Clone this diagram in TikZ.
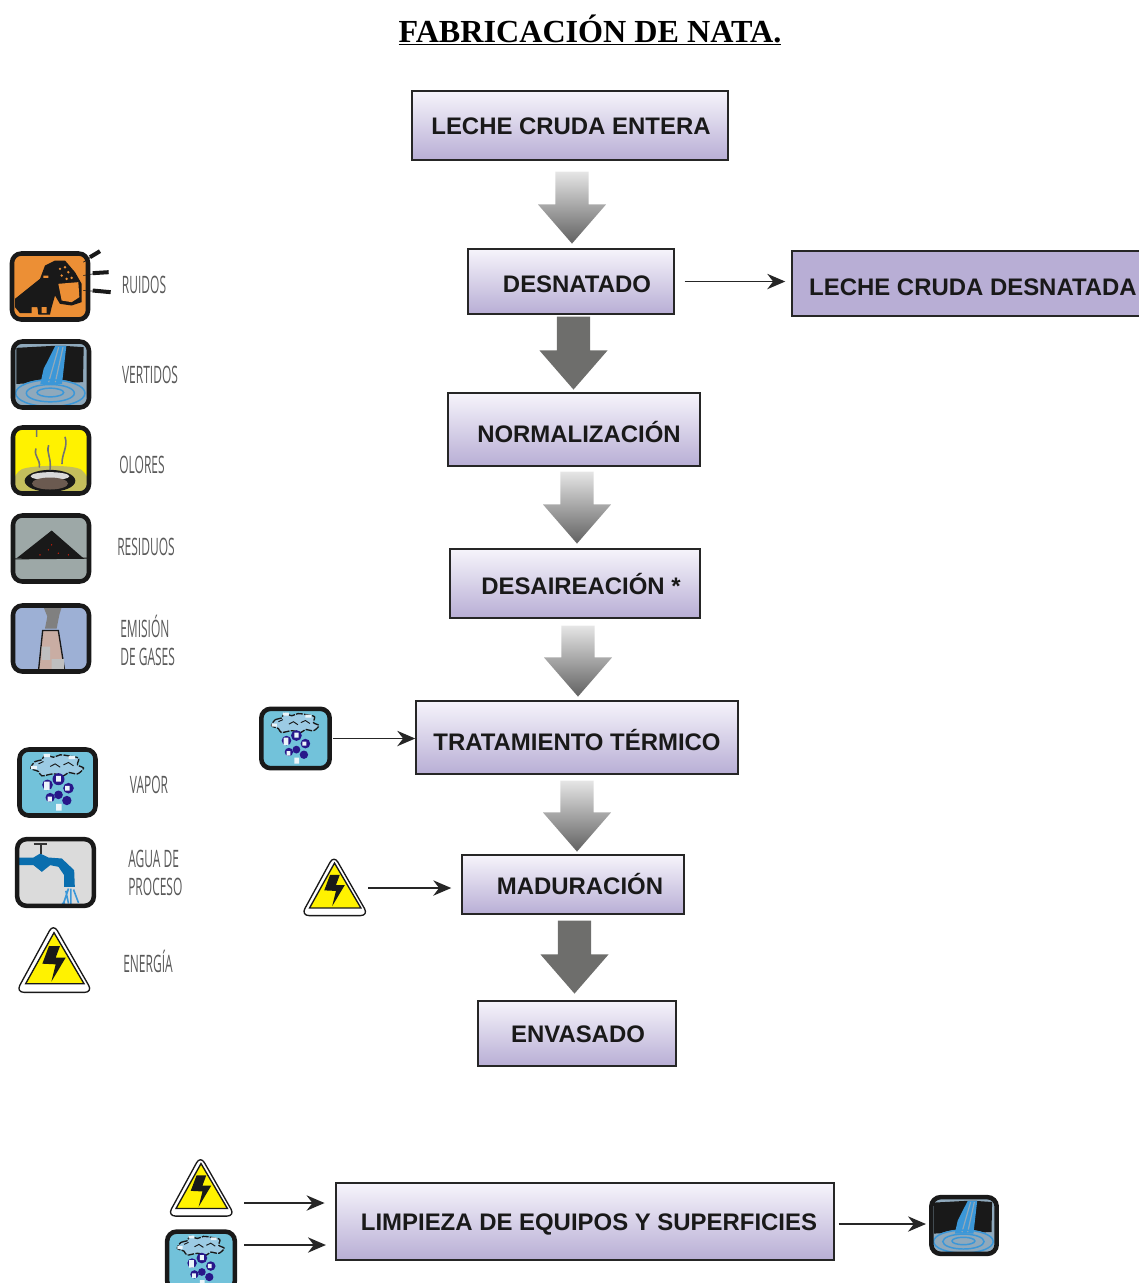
\documentclass[tikz,border=0pt]{standalone}
\usepackage{fontspec}
\setmainfont{Liberation Sans}
\newfontfamily\titlefont{Liberation Serif}
\newfontfamily\labelfont[FakeStretch=0.5]{Open Sans}
\usetikzlibrary{arrows.meta,shapes.arrows}
\definecolor{malva}{HTML}{B8AED5}
\definecolor{malvaclara}{HTML}{F6F4FB}
\definecolor{flechagris}{HTML}{6E6E6C}
\definecolor{naranja}{HTML}{EC8F35}
\definecolor{grisazul}{HTML}{8FA9BC}
\definecolor{azulagua}{HTML}{3B97D8}
\definecolor{oliva}{HTML}{C4BE5C}
\definecolor{cielo}{HTML}{9DB0D5}
\definecolor{turquesa}{HTML}{72C2DA}
\definecolor{nube}{HTML}{9CCBE4}
\definecolor{gota}{HTML}{28178A}
\definecolor{grifo}{HTML}{0A6EAE}
\definecolor{ceniza}{HTML}{9DA8A7}
\definecolor{ladrillo}{HTML}{C9ADA3}
\definecolor{lodo}{HTML}{6B5A50}
\tikzset{
	boxsize/.style 2 args={minimum width=#1*0.75pt,minimum height=#2*0.75pt},
	flowbox/.style={draw=black!85,line width=1.1pt,top color=malvaclara,bottom color=malva,inner sep=0pt,
		font=\bfseries\fontsize{17.95}{20}\selectfont,text=black!90,text height=12.9pt,text depth=0pt},
	fatarrow/.style={single arrow,shape border rotate=270,inner sep=12.2pt,minimum width=51pt,anchor=tip,
		single arrow head extend=13pt,single arrow tip angle=82,minimum height=#1*0.75pt},
	gradarrow/.style={fatarrow=#1,top color=black!10,bottom color=black!62},
	solidarrow/.style={fatarrow=#1,fill=flechagris},
	flecha/.style={->,line width=1.2pt,draw=black!85},
	sidelabel/.style={font=\labelfont\fontsize{18}{21}\selectfont,text=black!65,inner sep=0pt,align=left},
	iconframe/.style={draw=black!90,line width=3.4pt,rounded corners=7pt},
	ruidosicon/.pic={
		\begin{scope}[scale=1/3,shift={(-150,-138)}]
		\fill[naranja,rounded corners=7pt] (36,39) rectangle (264,237);
		\fill[black!90] (45,175)--(95,135)--(120,115)--(135,75)--(165,60)--(195,60)--(225,95)--(245,130)--(245,185)--(215,195)--(180,190)--(165,165)--(155,200)--(150,222)--(115,222)--(112,200)--(95,200)--(95,218)--(60,218)--(45,200)--cycle;
		\fill[naranja] (175,130)--(235,125)--(238,170)--(215,185)--(185,180)--cycle;
		\fill[naranja] (100,205) rectangle (112,222) (125,200) rectangle (140,218) (130,105) rectangle (145,112);
		\foreach \a/\b in {180/85,195/80,205/95,185/105,215/112,200/115}\fill[naranja] (\a,\b) circle (4);
		\draw[iconframe] (36,39) rectangle (264,237);
		\draw[black!90,line width=0.5pt] (250,65)--(275,48) (250,105)--(280,100) (250,150)--(280,152);
		\draw[black!90,line width=3pt] (270,50)--(300,32) (278,98)--(326,95) (278,150)--(332,155);
		\end{scope}
	},
	vertidosicon/.pic={
		\begin{scope}[scale=1/3,shift={(-152,-402)}]
		\fill[grisazul,rounded corners=7pt] (38,303) rectangle (266,501);
		\fill[black!90] (48,322)--(160,316)--(190,316)--(250,320)--(248,425)--(48,430)--cycle;
		\fill[grisazul] (150,458) ellipse [x radius=106,y radius=42];
		\fill[azulagua] (165,316)--(198,316)--(185,430)--(120,430)--(130,385)--cycle;
		\draw[grisazul,line width=0.9pt] (175,320)--(145,425) (188,320)--(165,425);
		\draw[azulagua,line width=1.1pt] (150,458) ellipse [x radius=104,y radius=40] (150,458) ellipse [x radius=72,y radius=26] (150,456) ellipse [x radius=40,y radius=13];
		\draw[iconframe] (38,303) rectangle (266,501);
		\end{scope}
	},
	oloresicon/.pic={
		\begin{scope}[scale=1/3,shift={(-153,-661)}]
		\fill[yellow,rounded corners=7pt] (39,562) rectangle (267,760);
		\fill[oliva,rounded corners=7pt] (40,700)..controls (90,675) and (220,672)..(267,705)--(267,760)--(39,760)--cycle;
		\fill[black!90] (150,722) ellipse [x radius=76,y radius=33];
		\fill[white!85!black] (150,708) ellipse [x radius=58,y radius=12];
		\fill[lodo] (150,730) ellipse [x radius=54,y radius=18];
		\draw[black!55,line width=1.2pt] (110,555)--(110,590) (108,625)..controls (100,650) and (122,655)..(118,682) (146,615)..controls (138,640) and (155,650)..(150,690) (195,590)..controls (205,620) and (185,640)..(186,672);
		\draw[iconframe] (39,562) rectangle (267,760);
		\end{scope}
	},
	residuosicon/.pic={
		\begin{scope}[scale=1/3,shift={(-153,-146)}]
		\fill[ceniza,rounded corners=7pt] (39,47) rectangle (267,245);
		\fill[black!90] (50,175)--(155,92)--(250,175)--cycle;
		\draw[black!90,line width=0.8pt] (45,177)--(265,175);
		\foreach \a/\b in {145/150,155/135,175/160,120/165,205/165}\fill[red!80!orange] (\a,\b) circle (2);
		\draw[iconframe] (39,47) rectangle (267,245);
		\end{scope}
	},
	emisionicon/.pic={
		\begin{scope}[scale=1/3,shift={(-153,-416)}]
		\fill[cielo,rounded corners=7pt] (39,317) rectangle (267,515);
		\fill[black!50] (130,320)--(185,322)--(178,345)--(170,386)--(135,386)--(142,350)--cycle;
		\draw[black!90,line width=1pt,fill=ladrillo] (128,392)--(175,392)--(195,518)--(115,518)--cycle;
		\fill[black!25] (125,440) rectangle (150,480) (155,478) rectangle (192,510);
		\draw[iconframe] (39,317) rectangle (267,515);
		\end{scope}
	},
	vaporicon/.pic={
		\begin{scope}[scale=1/3,shift={(-172,-848)}]
		\fill[turquesa,rounded corners=7pt] (58,749) rectangle (286,947);
		\draw[black!90,line width=1pt,dash pattern=on 5pt off 1pt,fill=nube] plot[smooth cycle] coordinates {(92,805) (105,785) (125,780) (135,765) (160,772) (180,765) (205,768) (235,775) (232,795) (250,805) (232,822) (205,818) (190,828) (160,822) (125,828) (115,815)};
		\fill[white!80!nube] (130,762) rectangle (150,772) (92,798) rectangle (110,808) (205,768) rectangle (225,778);
		\draw[black!90,line width=0.7pt] (150,800)--(165,792)--(180,802) (190,795)--(205,788)--(220,798) (115,792)--(130,785);
		\foreach \a/\b/\r in {175/838/18,205/865/16,150/893/14,175/885/13,200/902/14,142/855/16}\fill[gota] (\a,\b) circle (\r);
		\fill[white!80!nube] (168,828) rectangle (182,845) (132,845) rectangle (148,870) (195,858) rectangle (208,872) (142,890) rectangle (155,905) (168,912) rectangle (184,932);
		\draw[iconframe] (58,749) rectangle (286,947);
		\end{scope}
	},
	aguaicon/.pic={
		\begin{scope}[scale=1/3,shift={(-166,-157)}]
		\fill[black!14,rounded corners=7pt] (51,57) rectangle (281,257);
		\fill[grifo] (52,112)--(100,112)--(120,100)--(145,112)--(185,115)--(222,150)--(224,200)--(192,200)--(192,165)--(175,140)--(150,135)--(125,155)--(100,135)--(52,135)--cycle;
		\draw[black!80,line width=1.2pt] (100,72)--(140,72) (122,72)--(122,100);
		\draw[azulagua,line width=1.2pt] (205,205)--(190,250) (212,205)--(212,255) (220,208)--(235,248) (197,212)--(205,250) (185,250)--(195,250);
		\draw[iconframe] (51,57) rectangle (281,257);
		\end{scope}
	},
	energiaicon/.pic={
		\begin{scope}[scale=1/3,shift={(-160,-430)}]
		\draw[black!90,line width=1pt,fill=white,rounded corners=6pt] (158,318)--(276,524)--(46,524)--cycle;
		\draw[black!90,line width=1pt,fill=yellow] (160,345)--(250,498)--(75,498)--cycle;
		\fill[black!90] (145,385)--(178,385)--(165,420)--(195,420)--(152,492)--(165,440)--(125,438)--cycle;
		\end{scope}
	}
}
\begin{document}
\begin{tikzpicture}[x=0.75pt,y=-0.75pt,>={Stealth[length=13.5pt,width=11.5pt]}]
	\useasboundingbox (0,0) rectangle (1139,1283);
	\clip (0,0) rectangle (1139,1283);
	\node[inner sep=0pt,font=\titlefont\bfseries\fontsize{24.1}{28}\selectfont,text=black] (titulo) at (590,30) {\underline{FABRICACIÓN DE NATA.}};
	% cajas del proceso
	\node[flowbox,boxsize={316}{69}] (entera) at (570,125.5) {\hspace*{1.5pt}LECHE CRUDA ENTERA};
	\node[flowbox,boxsize={206}{65},text height=16.5pt] (desnatado) at (571,281.5) {\hspace*{9pt}DESNATADO};
	\node[flowbox,boxsize={348}{65},fill=malva,top color=malva,text height=18.5pt] (desnatada) at (966,283.5) {\hspace*{10.5pt}LECHE CRUDA DESNATADA};
	\node[flowbox,boxsize={252}{73},text height=19pt] (normal) at (574,429.5) {\hspace*{7.5pt}NORMALIZACIÓN};
	\node[flowbox,boxsize={250}{69},text height=17pt] (desaire) at (575,583.5) {\hspace*{9pt}DESAIREACIÓN *};
	\node[flowbox,boxsize={322}{73},text height=19pt] (termico) at (577,737.5) {TRATAMIENTO TÉRMICO};
	\node[flowbox,boxsize={222}{59},text height=15.5pt] (maduracion) at (573,884.5) {\hspace*{10.5pt}MADURACIÓN};
	\node[flowbox,boxsize={198}{65},text height=14pt] (envasado) at (577,1033.5) {\hspace*{1.5pt}ENVASADO};
	\node[flowbox,boxsize={498}{77}] (limpieza) at (585,1221.5) {\hspace*{6pt}LIMPIEZA DE EQUIPOS Y SUPERFICIES};
	% flechas gruesas
	\node[gradarrow=72] (fa) at (572,244) {};
	\node[solidarrow=73] (fb) at (573.5,390) {};
	\node[gradarrow=72] (fc) at (577,544) {};
	\node[gradarrow=71] (fd) at (578,697) {};
	\node[gradarrow=71] (fe) at (577,852) {};
	\node[solidarrow=73] (ff) at (574.5,994) {};
	% leyenda
	\pic at (50,286.5) {ruidosicon};
	\pic at (51,374.5) {vertidosicon};
	\pic at (51,460.5) {oloresicon};
	\pic at (51,548.5) {residuosicon};
	\pic at (51,638.5) {emisionicon};
	\pic at (57.5,782.5) {vaporicon};
	\pic at (55.5,872.5) {aguaicon};
	\pic at (54,961) {energiaicon};
	\node[sidelabel] (lruidos) at (144,285) {RUIDOS};
	\node[sidelabel] (lvertidos) at (150,375) {VERTIDOS};
	\node[sidelabel] (lolores) at (142,465) {OLORES};
	\node[sidelabel] (lresiduos) at (146,547) {RESIDUOS};
	\node[sidelabel,anchor=west] (lemision) at (120,640) {EMISIÓN\\DE GASES};
	\node[sidelabel] (lvapor) at (149,785) {VAPOR};
	\node[sidelabel,anchor=west] (lagua) at (128,873) {AGUA DE\\PROCESO};
	\node[sidelabel] (lenergia) at (148,961) {ENERGÍA};
	% entradas y salidas
	\pic[scale=0.9] at (295.5,738.5) {vaporicon};
	\pic[scale=0.88] at (334.5,888) {energiaicon};
	\pic[scale=0.88] at (201,1188.5) {energiaicon};
	\pic[scale=0.89] at (201,1261) {vaporicon};
	\pic[scale=0.86] at (964,1225.5) {vertidosicon};
	\coordinate (evapor) at (333,738.5);
	\coordinate (eenergia) at (368,888);
	\coordinate (lenerg) at (244,1203);
	\coordinate (lvap) at (244,1245);
	\coordinate (lvert) at (926,1224);
	\draw[flecha,shorten <=7.5pt,shorten >=4.5pt] (desnatado.east) -- (desnatada.west |- desnatado.east);
	\draw[flecha] (evapor) -- (evapor -| termico.west);
	\draw[flecha,shorten >=7.5pt] (eenergia) -- (eenergia -| maduracion.west);
	\draw[flecha,shorten >=8pt] (lenerg) -- (lenerg -| limpieza.west);
	\draw[flecha,shorten >=7pt] (lvap) -- (lvap -| limpieza.west);
	\draw[flecha,shorten <=3pt] (limpieza.east |- lvert) -- (lvert);
\end{tikzpicture}
\end{document}
